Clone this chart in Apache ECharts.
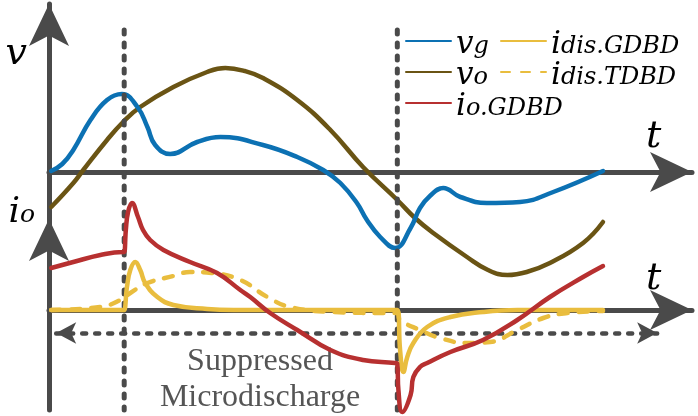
<!DOCTYPE html>
<html>
<head>
<meta charset="utf-8">
<script src="https://cdn.jsdelivr.net/npm/echarts@6/dist/echarts.min.js"></script>
<style>
  html, body { margin: 0; padding: 0; background: #fff; }
  #chart { width: 698px; height: 416px; }
</style>
</head>
<body>
<div id="chart"></div>
<script>
// time in arbitrary units, 0..100 = one grid period
const eventTimes = [13.2, 62.6];

// voltages (upper panel)
const vgData = [
  [0, 0.01], [2.0, 0.08], [4.0, 0.22], [7.1, 0.52], [10.1, 0.72], [12.8, 0.78], [15.6, 0.65],
  [17.4, 0.45], [18.8, 0.27], [21.5, 0.18], [26.4, 0.30], [30.6, 0.35], [38.3, 0.27],
  [44.5, 0.15], [49.2, 0.02], [52.3, -0.11], [55.3, -0.31], [57.1, -0.48], [59.5, -0.65],
  [62.2, -0.76], [65.0, -0.56], [66.7, -0.36], [68.5, -0.24], [70.9, -0.16], [74.0, -0.25],
  [78.8, -0.31], [84.8, -0.30], [90.8, -0.20], [99.8, 0.01]
];
const voData = [
  [0, -0.35], [4.0, -0.11], [5.8, 0.02], [10.1, 0.32], [13.0, 0.50], [16.1, 0.65],
  [22.1, 0.85], [28.2, 1.00], [31.5, 1.04], [35.0, 1.01], [38.3, 0.94], [44.5, 0.72], [50.5, 0.42],
  [56.4, 0.05], [62.6, -0.28], [65.8, -0.46], [69.1, -0.61], [75.2, -0.85], [79.0, -0.98], [82.5, -1.03],
  [86.0, -1.00], [90.2, -0.91], [96.2, -0.71], [99.8, -0.50]
];

// currents (lower panel)
const ioData = [
  [0, 0.42], [4.0, 0.48], [8.9, 0.55], [13.0, 0.58], [13.2, 0.58], [13.5, 0.80],
  [13.9, 0.98], [14.6, 1.07], [15.7, 0.93], [16.6, 0.80], [17.9, 0.70], [20.3, 0.60],
  [25.1, 0.48], [30.0, 0.37], [34.2, 0.20], [36.0, 0.13], [39.6, -0.03], [44.5, -0.20],
  [50.5, -0.40], [56.4, -0.50], [62.2, -0.53], [62.6, -0.54], [62.8, -0.80], [63.5, -1.02],
  [65.0, -0.85], [65.5, -0.67], [66.7, -0.57], [68.0, -0.53], [72.2, -0.42], [78.1, -0.30],
  [84.3, -0.10], [90.2, 0.13], [96.2, 0.33], [99.8, 0.44]
];
const idisGdbdData = [
  [0, 0], [13.0, 0], [13.2, 0], [13.7, 0.23], [14.3, 0.40], [15.2, 0.48], [16.1, 0.40],
  [17.0, 0.27], [19.2, 0.13], [22.1, 0.05], [28.2, 0.01], [33.0, 0], [62.6, 0],
  [63.1, -0.40], [63.7, -0.62], [64.4, -0.47], [65.5, -0.33], [68.0, -0.17], [72.2, -0.07],
  [78.1, -0.02], [84.3, 0], [99.8, 0]
];
const idisTdbdData = [
  [0, 0], [8.9, 0.03], [12.5, 0.10], [14.3, 0.17], [17.4, 0.27], [22.1, 0.34],
  [25.1, 0.38], [29.0, 0.37], [34.2, 0.30], [39.1, 0.13], [43.2, 0.03], [51.0, -0.02],
  [61.3, -0.03], [62.6, -0.03], [63.1, -0.10], [66.7, -0.20], [70.3, -0.28], [75.2, -0.33],
  [79.4, -0.32], [84.3, -0.20], [89.0, -0.08], [93.3, -0.03], [99.8, -0.01]
];

// event markers
const markerSpan = [1.42, -2.38];      // vertical dashed lines, in v units
const arrowSpan = [0.9, 109.6];        // horizontal double arrow, in t units
const arrowLevel = -0.23;              // in i units

const AXIS = '#4a4a4a';
const SERIF = 'DejaVu Serif';
const COLORS = { vg: '#0c71b3', vo: '#6a5414', io: '#b73030', dis: '#e9bd3e' };

const chart = echarts.init(document.getElementById('chart'));

function curve(name, data, color, panel, dashed, z) {
  return {
    name: name,
    type: 'line',
    xAxisIndex: panel,
    yAxisIndex: panel,
    data: data,
    symbol: 'none',
    smooth: 0.45,
    clip: false,
    z: z,
    lineStyle: {
      color: color,
      width: 4.5,
      cap: 'round',
      join: 'round',
      type: dashed ? [9, 11] : 'solid'
    },
    itemStyle: { color: color }
  };
}

function tAxis(idx, pad) {
  return {
    gridIndex: idx,
    type: 'value',
    min: -0.4,
    max: 115.9,
    axisLine: {
      onZero: true,
      symbol: ['none', 'arrow'],
      symbolSize: [30, 42],
      lineStyle: { color: AXIS, width: 5 }
    },
    axisTick: { show: false },
    axisLabel: { show: false },
    splitLine: { show: false },
    name: 't',
    nameLocation: 'end',
    nameGap: -46,
    nameTextStyle: {
      fontFamily: SERIF, fontStyle: 'italic', fontSize: 38, color: '#000',
      verticalAlign: 'bottom', lineHeight: 38, padding: [0, 0, pad, 0]
    }
  };
}

function yAxisBase(idx, min, max) {
  return {
    gridIndex: idx,
    type: 'value',
    min: min,
    max: max,
    axisLine: {
      show: true,
      onZero: false,
      symbol: ['none', 'arrow'],
      symbolSize: [30, 42],
      lineStyle: { color: AXIS, width: 5 }
    },
    axisTick: { show: false },
    axisLabel: { show: false },
    splitLine: { show: false }
  };
}

const legendRich = {
  m: { fontFamily: SERIF, fontStyle: 'italic', fontSize: 31, lineHeight: 16, verticalAlign: 'top', color: '#000' },
  s: { fontFamily: SERIF, fontStyle: 'italic', fontSize: 24, lineHeight: 24, padding: [6, 0, 0, 0], verticalAlign: 'top', color: '#000' }
};
function legendFmt(name) {
  const parts = name.split('_');
  return '{m|' + parts[0] + '}{s|' + parts[1] + '}';
}
function legendAt(left, names) {
  return {
    data: names,
    left: left,
    top: 29,
    orient: 'vertical',
    padding: 0,
    itemGap: 0,
    itemWidth: 45,
    itemHeight: 2,
    selectedMode: false,
    formatter: legendFmt,
    textStyle: { rich: legendRich }
  };
}

const topY = yAxisBase(0, -0.47, 1.68);
topY.name = 'v';
topY.nameLocation = 'end';
topY.nameGap = -69;
topY.nameTextStyle = {
  fontFamily: SERIF, fontStyle: 'italic', fontSize: 38, color: '#000',
  align: 'right', verticalAlign: 'bottom', lineHeight: 38, padding: [0, 22, 0, 0]
};

const botY = yAxisBase(1, -1.0, 0.91);
botY.name = '{m|i}{s|o}';
botY.nameLocation = 'end';
botY.nameGap = 4;
botY.nameTextStyle = {
  align: 'right', verticalAlign: 'bottom', padding: [0, 14, 0, 0],
  rich: {
    m: { fontFamily: SERIF, fontStyle: 'italic', fontSize: 36, lineHeight: 20, verticalAlign: 'top', color: '#000' },
    s: { fontFamily: SERIF, fontStyle: 'italic', fontSize: 25, lineHeight: 20, padding: [8, 0, 0, 0], verticalAlign: 'top', color: '#000' }
  }
};

const series = [
  curve('v_g', vgData, COLORS.vg, 0, false, 3),
  curve('v_o', voData, COLORS.vo, 0, false, 2),
  curve('i_dis.TDBD', idisTdbdData, COLORS.dis, 1, true, 5),
  curve('i_dis.GDBD', idisGdbdData, COLORS.dis, 1, false, 6),
  curve('i_o.GDBD', ioData, COLORS.io, 1, false, 7)
];

// vertical dashed event lines
eventTimes.forEach(function (t) {
  series.push({
    type: 'line',
    xAxisIndex: 0,
    yAxisIndex: 0,
    data: [[t, markerSpan[0]], [t, markerSpan[1]]],
    symbol: 'none',
    clip: false,
    silent: true,
    z: 4,
    lineStyle: { color: AXIS, width: 5, type: [4, 9], cap: 'round' }
  });
});

// horizontal double arrow for the suppressed region
series[3].markLine = {
  silent: true,
  symbol: ['arrow', 'arrow'],
  symbolSize: [16, 20],
  label: { show: false },
  lineStyle: { color: AXIS, width: 4.5, type: [4, 9], cap: 'round' },
  itemStyle: { color: AXIS },
  data: [[{ coord: [arrowSpan[0], arrowLevel] }, { coord: [arrowSpan[1], arrowLevel] }]]
};

chart.setOption({
  animation: false,
  backgroundColor: '#fff',
  grid: [
    { left: 49, right: 6, top: 4, bottom: 197 },
    { left: 49, right: 6, top: 219, bottom: 6 }
  ],
  xAxis: [tAxis(0, 16), tAxis(1, 12)],
  yAxis: [topY, botY],
  legend: [
    legendAt(405, ['v_g', 'v_o', 'i_o.GDBD']),
    legendAt(500, ['i_dis.GDBD', 'i_dis.TDBD'])
  ],
  graphic: [{
    type: 'text',
    x: 260,
    y: 380,
    silent: true,
    style: {
      text: 'Suppressed\nMicrodischarge',
      fill: '#555',
      font: '32px "Liberation Serif"',
      lineHeight: 36,
      textAlign: 'center',
      textVerticalAlign: 'middle',
      align: 'center',
      verticalAlign: 'middle'
    }
  }],
  series: series
});

window.onresize = function () {
  chart.resize();
};
</script>
</body>
</html>
